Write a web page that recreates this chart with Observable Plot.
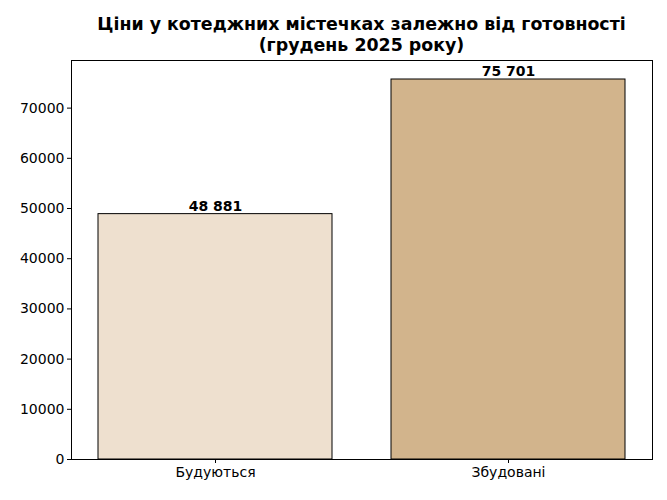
<!DOCTYPE html>
<html>
<head>
<meta charset="utf-8">
<script src="https://cdn.jsdelivr.net/npm/d3@7"></script>
<script src="https://cdn.jsdelivr.net/npm/@observablehq/plot@0.6"></script>
<style>
  body { margin: 0; background: #fff; font-family: "DejaVu Sans", sans-serif; }
  #title { width: 667px; height: 56px; box-sizing: border-box; padding-top: 14px; padding-left: 56px;
           text-align: center; font-weight: bold; font-size: 17.4px; line-height: 21px; color: #000; }
</style>
</head>
<body>
<div id="title">Ціни у котеджних містечках залежно від готовності<br>(грудень 2025 року)</div>
<div id="chart"></div>
<script>
const categories = ["Будуються", "Збудовані"];
const prices = [48881, 75701];
const colors = ["#EEE0CF", "#D2B48C"];
const yTicks = [0, 10000, 20000, 30000, 40000, 50000, 60000, 70000];

const data = categories.map((c, i) => ({category: c, price: prices[i], color: colors[i]}));
const fmt = v => d3.format(",")(v).replace(/,/g, " ");

const chart = Plot.plot({
  width: 667,
  height: 444,
  marginTop: 4,
  marginBottom: 41,
  marginLeft: 71,
  marginRight: 15,
  style: {fontFamily: "DejaVu Sans, sans-serif", fontSize: "14px", color: "#000"},
  x: {domain: categories, paddingInner: 0.2, paddingOuter: 0.09, label: null},
  y: {domain: [0, 75701 * 1.05], label: null},
  marks: [
    Plot.barY(data, {x: "category", y: "price", fill: "color", stroke: "#000", strokeWidth: 1}),
    Plot.text(data, {x: "category", y: "price", text: d => fmt(d.price), dy: -8, fontWeight: "bold", fontSize: 14, fill: "#000"}),
    Plot.axisX({tickSize: 4, tickPadding: 4, fontSize: 14, label: null}),
    Plot.axisY({ticks: yTicks, tickFormat: d => String(d), tickSize: 4, tickPadding: 3, fontSize: 14, label: null}),
    Plot.frame({stroke: "#000", strokeWidth: 1})
  ]
});
document.getElementById("chart").appendChild(chart);
</script>
</body>
</html>
